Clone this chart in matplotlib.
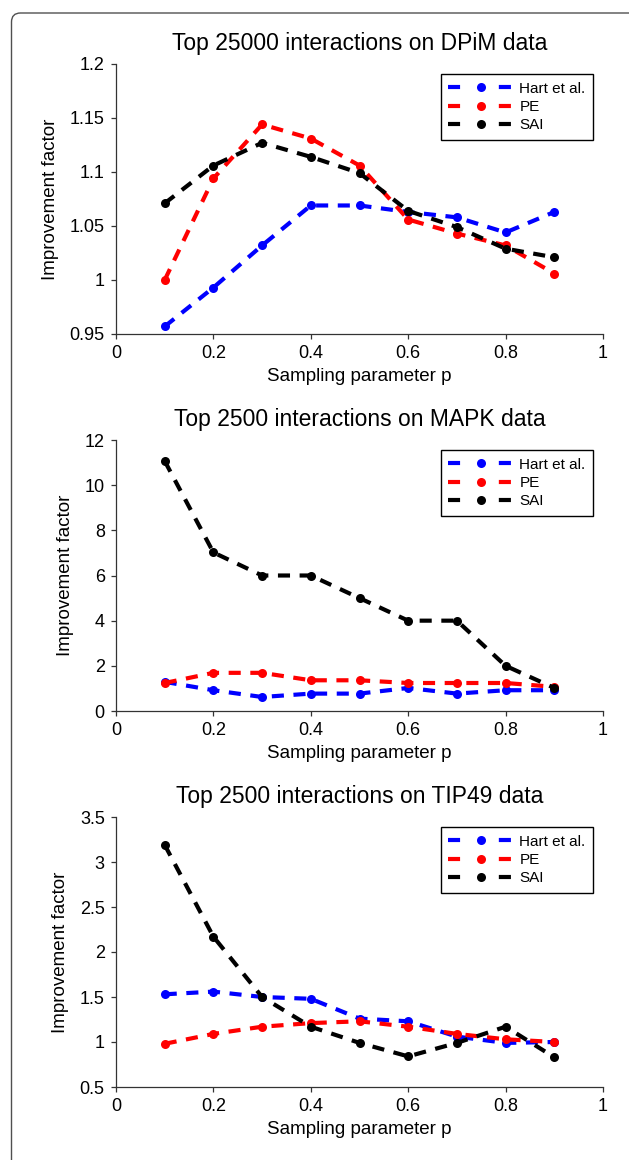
import matplotlib
matplotlib.use('Agg')
import matplotlib.pyplot as plt
from matplotlib.patches import FancyBboxPatch
from matplotlib.lines import Line2D

plt.rcParams['font.family'] = ['Liberation Sans', 'DejaVu Sans']

p = [0.1, 0.2, 0.3, 0.4, 0.5, 0.6, 0.7, 0.8, 0.9]
series_names = ['Hart et al.', 'PE', 'SAI']
colors = ['#0000ff', '#ff0000', '#000000']

# DPiM panel
dpim_hart = [0.957, 0.993, 1.032, 1.069, 1.069, 1.063, 1.058, 1.044, 1.063]
dpim_pe = [1.000, 1.094, 1.144, 1.131, 1.106, 1.056, 1.043, 1.032, 1.006]
dpim_sai = [1.071, 1.106, 1.127, 1.114, 1.099, 1.064, 1.049, 1.029, 1.021]

# MAPK panel
mapk_hart = [1.29, 0.92, 0.62, 0.77, 0.77, 1.02, 0.77, 0.92, 0.92]
mapk_pe = [1.24, 1.69, 1.69, 1.36, 1.36, 1.24, 1.24, 1.24, 1.07]
mapk_sai = [11.07, 7.02, 6.0, 6.0, 5.0, 4.0, 4.0, 2.0, 1.02]

# TIP49 panel
tip_hart = [1.53, 1.56, 1.50, 1.48, 1.26, 1.23, 1.06, 0.99, 1.00]
tip_pe = [0.98, 1.09, 1.17, 1.21, 1.23, 1.17, 1.09, 1.03, 1.00]
tip_sai = [3.19, 2.17, 1.50, 1.17, 0.99, 0.84, 0.99, 1.17, 0.83]

titles = ['Top 25000 interactions on DPiM data',
          'Top 2500 interactions on MAPK data',
          'Top 2500 interactions on TIP49 data']
ylims = [(0.95, 1.2), (0, 12), (0.5, 3.5)]
yticks = [[0.95, 1, 1.05, 1.1, 1.15, 1.2],
          [0, 2, 4, 6, 8, 10, 12],
          [0.5, 1, 1.5, 2, 2.5, 3, 3.5]]
yticklabels = [['0.95', '1', '1.05', '1.1', '1.15', '1.2'],
               ['0', '2', '4', '6', '8', '10', '12'],
               ['0.5', '1', '1.5', '2', '2.5', '3', '3.5']]
xticks = [0, 0.2, 0.4, 0.6, 0.8, 1]
xticklabels = ['0', '0.2', '0.4', '0.6', '0.8', '1']
panel_data = [(dpim_hart, dpim_pe, dpim_sai),
              (mapk_hart, mapk_pe, mapk_sai),
              (tip_hart, tip_pe, tip_sai)]

W, H = 629, 1160
fig = plt.figure(figsize=(W / 100, H / 100), dpi=100)

# rounded outer frame (in inches, runs off right and bottom edges)
frame = FancyBboxPatch((0.115, -0.3), 6.6, (H - 13) / 100 + 0.3,
                       boxstyle='round,pad=0,rounding_size=0.09',
                       transform=fig.dpi_scale_trans, fill=False,
                       edgecolor='#505050', linewidth=1.0)
fig.patches.append(frame)

# axes boxes in pixels: (left, top, right, bottom)
boxes = [(116, 64, 603, 334), (116, 440, 603, 711), (116, 817, 603, 1087)]

LW = 3.0
for i, (l, t, r, b) in enumerate(boxes):
    ax = fig.add_axes([l / W, 1 - b / H, (r - l) / W, (b - t) / H])
    for vals, name, c in zip(panel_data[i], series_names, colors):
        ax.plot(p, vals, color=c, linestyle='--', dashes=(2.9, 2.3),
                linewidth=LW, marker='o', markersize=6.5,
                markeredgewidth=0, label=name)
    ax.set_xlim(0, 1)
    ax.set_ylim(*ylims[i])
    ax.set_xticks(xticks)
    ax.set_xticklabels(xticklabels)
    ax.set_yticks(yticks[i])
    ax.set_yticklabels(yticklabels[i])
    ax.spines['top'].set_visible(False)
    ax.spines['right'].set_visible(False)
    for s in ('left', 'bottom'):
        ax.spines[s].set_color('#333333')
        ax.spines[s].set_linewidth(0.9)
    ax.tick_params(direction='out', length=3.6, width=0.9, labelsize=13,
                   color='#333333', pad=4.5)
    ax.set_title(titles[i], fontsize=16.5, pad=10)
    ax.set_xlabel('Sampling parameter p', fontsize=13.5, labelpad=4)
    ax.set_ylabel('Improvement factor', fontsize=13.5, labelpad=8)

    # legend handles: dash - marker - dash, like the original
    handles = [Line2D([0], [0], color=c, linewidth=LW, linestyle='--',
                      dashes=(2.9, 9.3), marker='o', markersize=6.5,
                      markeredgewidth=0)
               for c in colors]
    leg = ax.legend(handles, series_names, loc='upper right',
                    bbox_to_anchor=(0.98, 0.963), borderaxespad=0,
                    fontsize=11, numpoints=1, handlelength=4.2,
                    fancybox=False, framealpha=1, borderpad=0.5,
                    labelspacing=0.28, handletextpad=0.45)
    leg.get_frame().set_edgecolor('black')
    leg.get_frame().set_linewidth(1.0)

fig.savefig('out.png', dpi=100)
